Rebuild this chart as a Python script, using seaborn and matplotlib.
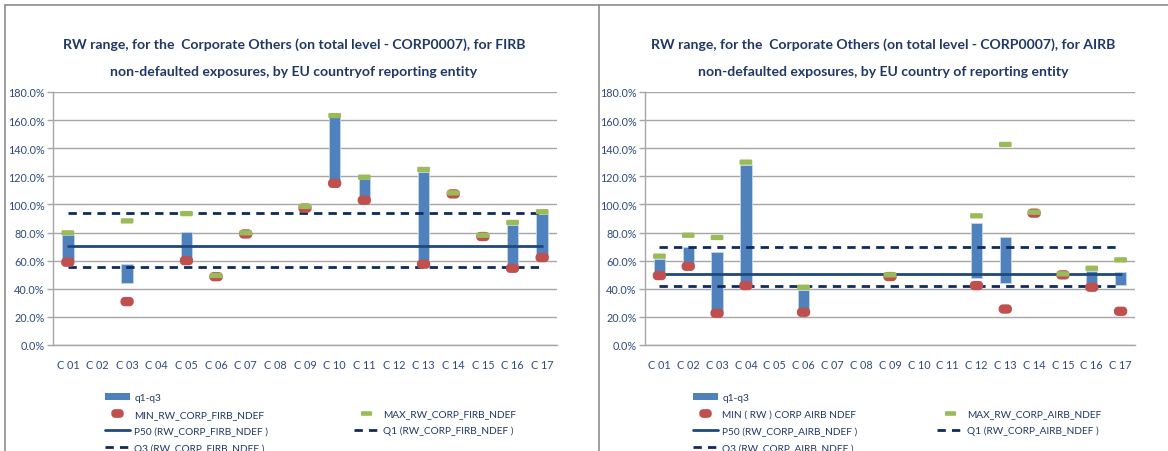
import numpy as np
import matplotlib
matplotlib.use("Agg")
import matplotlib.pyplot as plt
from matplotlib.lines import Line2D
from matplotlib.patches import Patch
from matplotlib.ticker import PercentFormatter, FixedLocator, MultipleLocator
import seaborn as sns

# ---- data (risk weights, %) ----
countries = ["C 01", "C 02", "C 03", "C 04", "C 05", "C 06", "C 07", "C 08", "C 09",
             "C 10", "C 11", "C 12", "C 13", "C 14", "C 15", "C 16", "C 17"]
nan = np.nan

firb_min = [58.9, nan, 30.9, nan, 60.0, 48.6, 79.0, nan, 97.4, 115.0, 103.0, nan, 57.5, 107.5, 77.2, 54.6, 62.2]
firb_max = [79.8, nan, 88.3, nan, 93.5, 49.5, 79.8, nan, 98.6, 163.2, 119.4, nan, 124.9, 108.2, 78.1, 87.2, 94.8]
firb_q1 = [60.0, nan, 44.2, nan, 60.5, nan, nan, nan, nan, 115.5, 104.0, nan, 58.5, nan, nan, 55.5, 63.5]
firb_q3 = [78.5, nan, 57.7, nan, 80.3, nan, nan, nan, nan, 162.0, 118.3, nan, 123.0, nan, nan, 85.5, 93.3]
firb_p50, firb_Q1, firb_Q3 = 70.3, 55.3, 94.0

airb_min = [49.4, 56.0, 22.6, 42.3, nan, 23.3, nan, nan, 48.7, nan, nan, 42.3, 25.6, 93.8, 49.9, 41.1, 24.0]
airb_max = [63.2, 78.1, 76.5, 130.1, nan, 41.1, nan, nan, 49.9, nan, nan, 91.9, 142.7, 94.5, 50.6, 54.6, 60.6]
airb_q1 = [50.0, 57.0, 23.5, 43.0, nan, 24.0, nan, nan, nan, nan, nan, 47.7, 44.2, nan, nan, 42.0, 43.0]
airb_q3 = [61.3, 70.0, 66.5, 128.2, nan, 39.4, nan, nan, nan, nan, nan, 86.9, 76.7, nan, nan, 52.5, 51.8]
airb_p50, airb_Q1, airb_Q3 = 50.8, 42.3, 69.6

titles = [
    ["RW range, for the  Corporate Others (on total level - CORP0007), for FIRB",
     "non-defaulted exposures, by EU countryof reporting entity"],
    ["RW range, for the  Corporate Others (on total level - CORP0007), for AIRB",
     "non-defaulted exposures, by EU country of reporting entity"],
]
legend_labels = [
    ["q1-q3", "MIN_RW_CORP_FIRB_NDEF", "MAX_RW_CORP_FIRB_NDEF",
     "P50 (RW_CORP_FIRB_NDEF )", "Q1 (RW_CORP_FIRB_NDEF )", "Q3 (RW_CORP_FIRB_NDEF )"],
    ["q1-q3", "MIN ( RW ) CORP AIRB NDEF", "MAX_RW_CORP_AIRB_NDEF",
     "P50 (RW_CORP_AIRB_NDEF )", "Q1 (RW_CORP_AIRB_NDEF )", "Q3 (RW_CORP_AIRB_NDEF )"],
]

# ---- style ----
sns.set_theme(style="white")
plt.rcParams["font.family"] = ["Lato", "DejaVu Sans"]

BAR = "#4F81BD"
RED = "#C0504D"
GREEN = "#9BBB59"
P50_COL = "#1F497D"
DASH_COL = "#0F2A5C"
TEXT = "#1F3864"
TICK_TEXT = "#2E4A7D"
GRID = "#A6A6A6"
FRAME = "#8C8C8C"
DASH = (0, (3.0, 2.2))


def rounded_rect(w, h, r, n=10):
    pts = []
    for cx, cy, a0 in [(w / 2 - r, h / 2 - r, 0), (-w / 2 + r, h / 2 - r, 90),
                       (-w / 2 + r, -h / 2 + r, 180), (w / 2 - r, -h / 2 + r, 270)]:
        for t in np.radians(np.linspace(a0, a0 + 90, n)):
            pts.append((cx + r * np.cos(t), cy + r * np.sin(t)))
    pts.append(pts[0])
    return pts


MIN_MARK = rounded_rect(13.3, 9.3, 4.2)
MAX_MARK = rounded_rect(12.7, 5.3, 1.2)

W, H = 1168, 452
fig = plt.figure(figsize=(W / 100, H / 100), dpi=100)

panels = [
    dict(left=53, width=504, mn=firb_min, mx=firb_max, q1=firb_q1, q3=firb_q3,
         p50=firb_p50, Q1=firb_Q1, Q3=firb_Q3, title_x=294, leg1=104.5, leg2=353.5),
    dict(left=645, width=490, mn=airb_min, mx=airb_max, q1=airb_q1, q3=airb_q3,
         p50=airb_p50, Q1=airb_Q1, Q3=airb_Q3, title_x=883, leg1=692.5, leg2=937.5),
]

n = len(countries)
for i, p in enumerate(panels):
    ax = fig.add_axes([p["left"] / W, 1 - 346 / H, p["width"] / W, 253 / H])

    # reference lines across all countries (also fixes category order)
    sns.lineplot(x=countries, y=np.full(n, p["Q3"]), ax=ax, color=DASH_COL, lw=2.0,
                 linestyle=DASH, legend=False, zorder=4)
    sns.lineplot(x=countries, y=np.full(n, p["Q1"]), ax=ax, color=DASH_COL, lw=2.0,
                 linestyle=DASH, legend=False, zorder=4)
    sns.lineplot(x=countries, y=np.full(n, p["p50"]), ax=ax, color=P50_COL, lw=2.0,
                 legend=False, zorder=4)

    # interquartile floating bars
    q1 = np.array(p["q1"], dtype=float)
    q3 = np.array(p["q3"], dtype=float)
    ax.bar(countries, q3 - q1, bottom=q1, width=0.39, color=BAR,
           edgecolor="#C5D5EA", linewidth=0.6, zorder=3)

    # min / max markers
    sns.scatterplot(x=countries, y=p["mn"], ax=ax, marker=MIN_MARK, s=92,
                    color=RED, edgecolor="none", linewidth=0, legend=False, zorder=5)
    sns.scatterplot(x=countries, y=p["mx"], ax=ax, marker=MAX_MARK, s=84,
                    color=GREEN, edgecolor="none", linewidth=0, legend=False, zorder=6)

    # axes styling
    ax.set_xlim(-0.5, n - 0.5)
    ax.set_ylim(0, 180)
    ax.yaxis.set_major_locator(MultipleLocator(20))
    ax.yaxis.set_major_formatter(PercentFormatter(xmax=100, decimals=1))
    ax.grid(axis="y", color=GRID, lw=1.0, zorder=0)
    ax.set_axisbelow(True)
    for side in ["top", "right"]:
        ax.spines[side].set_visible(False)
    for side in ["left", "bottom"]:
        ax.spines[side].set_color(GRID)
        ax.spines[side].set_linewidth(1.0)
    ax.xaxis.set_minor_locator(FixedLocator(np.arange(-0.5, n, 1.0)))
    ax.tick_params(axis="x", which="major", length=0, pad=10, labelsize=7.8, labelcolor=TICK_TEXT)
    ax.tick_params(axis="x", which="minor", length=4, width=1.0, color=GRID, direction="out")
    ax.tick_params(axis="y", which="major", length=4, width=1.0, color=GRID, direction="out",
                   pad=2, labelsize=7.8, labelcolor=TICK_TEXT, left=True)
    ax.set_xlabel("")
    ax.set_ylabel("")

    # two-line title
    for line, y in zip(titles[i], [45, 72]):
        fig.text(p["title_x"] / W, 1 - y / H, line, ha="center", va="center",
                 fontsize=10.1, fontweight="bold", color=TEXT)

    # legend (two columns laid out like the spreadsheet legend)
    labels = legend_labels[i]
    h_bar = Patch(facecolor=BAR, edgecolor="none")
    h_min = Line2D([], [], ls="none", marker=MIN_MARK, markersize=9.0, color=RED, mew=0)
    h_max = Line2D([], [], ls="none", marker=MAX_MARK, markersize=8.0, color=GREEN, mew=0)
    h_p50 = Line2D([], [], color=P50_COL, lw=2.0)
    h_q1 = Line2D([], [], color=DASH_COL, lw=2.0, linestyle=DASH)
    h_q3 = Line2D([], [], color=DASH_COL, lw=2.0, linestyle=DASH)
    common = dict(loc="upper left", frameon=False, borderpad=0, borderaxespad=0,
                  handlelength=2.5, handletextpad=0.45, labelspacing=0.75,
                  prop={"size": 7.3}, labelcolor=TEXT, handleheight=0.7)
    fig.legend([h_bar, h_min, h_p50, h_q3], [labels[0], labels[1], labels[3], labels[5]],
               bbox_to_anchor=(p["leg1"] / W, 1 - 394 / H), **common)
    fig.legend([h_max, h_q1], [labels[2], labels[4]],
               bbox_to_anchor=(p["leg2"] / W, 1 - 410 / H), **common)

# panel frame
for xs, ys in [([5 / W, 1.0], [1 - 6 / H, 1 - 6 / H]),
               ([5 / W, 5 / W], [0.0, 1 - 6 / H]),
               ([599 / W, 599 / W], [0.0, 1 - 6 / H])]:
    fig.add_artist(Line2D(xs, ys, transform=fig.transFigure, color=FRAME, lw=1.2))

fig.savefig("out.png", dpi=100, facecolor="white")
